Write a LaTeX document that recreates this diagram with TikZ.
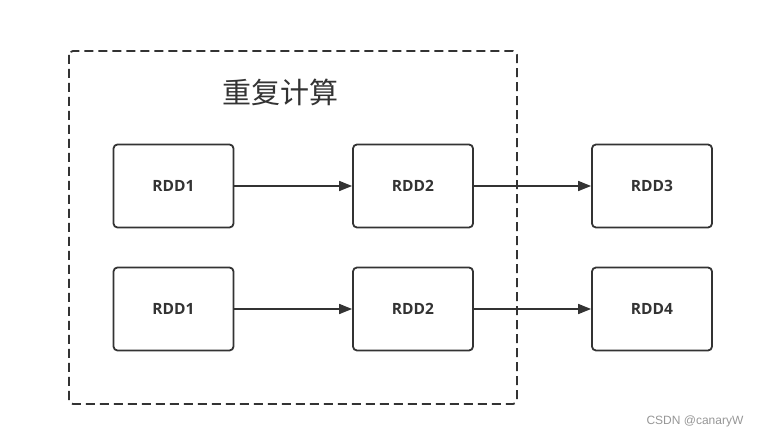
\documentclass[tikz,border=0pt]{standalone}
\usepackage{fontspec}
\setmainfont{Open Sans}
\newfontfamily\cjk{Noto Sans CJK SC}
\newfontfamily\marksans{Liberation Sans}
\usetikzlibrary{arrows.meta}

\definecolor{linecolor}{RGB}{51,51,51}
\definecolor{markcolor}{RGB}{150,150,150}

\tikzset{
  rdd/.style={rectangle,rounded corners=4pt,draw=linecolor,line width=1.8pt,
    minimum width=120pt,minimum height=83pt,text=linecolor,
    font=\fontsize{15.5}{18}\selectfont\bfseries},
  flow/.style={-{Triangle[length=13pt,width=10pt]},draw=linecolor,line width=1.6pt}
}

\begin{document}
\begin{tikzpicture}[x=1pt,y=-1pt]
  \useasboundingbox (0,0) rectangle (758,438);
  % Recomputed part
  \draw[linecolor,line width=1.8pt,dash pattern=on 9pt off 5pt,rounded corners=4pt]
    (69,51) rectangle (517,404);
  \node at(280,92)(title){\cjk\fontsize{29}{34}\selectfont\color{linecolor}重复计算};
  % First row
  \node at(173.5,186)[rdd](a1){RDD1};
  \node at(413,186)[rdd](a2){RDD2};
  \node at(652,186)[rdd](a3){RDD3};
  % Second row
  \node at(173.5,309)[rdd](b1){RDD1};
  \node at(413,309)[rdd](b2){RDD2};
  \node at(652,309)[rdd](b4){RDD4};
  % Arrows
  \draw[flow](a1) -- (a2);
  \draw[flow](a2) -- (a3);
  \draw[flow](b1) -- (b2);
  \draw[flow](b2) -- (b4);
  % Watermark
  \node at(695,421)(mark){\marksans\fontsize{12}{14}\selectfont\color{markcolor}CSDN @canaryW};
\end{tikzpicture}
\end{document}
